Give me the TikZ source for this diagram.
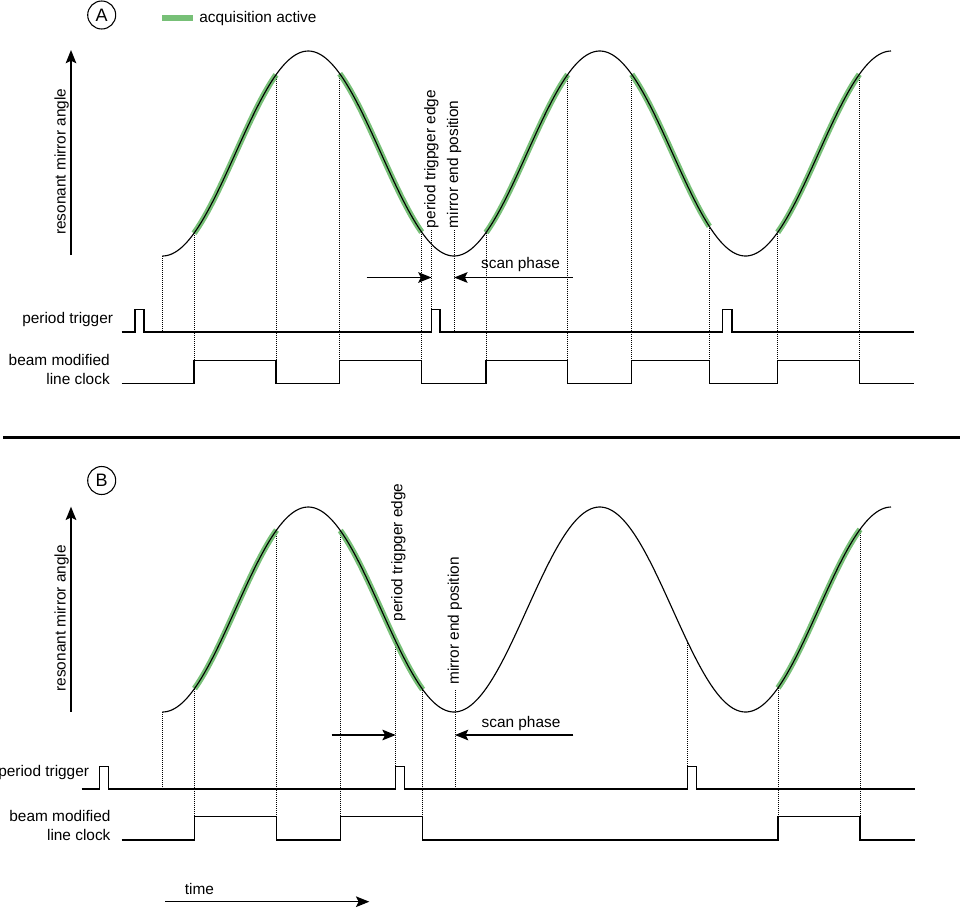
\documentclass[tikz,border=0pt]{standalone}
\usepackage{fontspec}
\setmainfont{Liberation Sans}
\usetikzlibrary{arrows.meta}
\definecolor{acqgreen}{RGB}{96,182,96}
\pgfmathdeclarefunction{mir}{1}{\pgfmathparse{153.5+102.5*cos(1.234991*(#1-162.5))}}
\begin{document}
\begin{tikzpicture}[x=0.75pt,y=-0.75pt,
  wave/.style={line width=1.05pt, black},
  curve/.style={line width=0.85pt, black},
  acq/.style={line width=4.4pt, acqgreen, opacity=0.85},
  guide/.style={line width=0.6pt, black, dash pattern=on 0.75pt off 0.75pt},
  arr/.style={line width=1pt, -{Stealth[length=10pt,width=8pt,inset=2pt]}},
  lbl/.style={font=\fontsize{11.55}{14.25}\selectfont, inner sep=0pt},
  circ/.style={circle, draw, line width=0.8pt, minimum size=21pt, inner sep=0pt, font=\fontsize{13.5}{15}\selectfont}]
\useasboundingbox (0,0) rectangle (960,908);
\fill[white] (0,0) rectangle (960,908);

% ================= Panel A =================
\node[circ] (circA) at (101.7,15) {A};
\coordinate (legL) at (162.3,18.3);
\coordinate (legR) at (193.3,18.3);
\draw[acq] (legL) -- (legR);
\node[lbl, anchor=west] (legtxt) at (199,18.3) {acquisition active};

\node[lbl, rotate=90] (ylabA) at (61.7,161.7) {resonant mirror angle};
\coordinate (yA0) at (71,255);
\coordinate (yA1) at (71,50);
\draw[arr] (yA0) -- (yA1);

% guides A
\foreach \xx in {194,276,339.7,421.7,486,567.7,631.7,709.3,777.7,859.3}
  \draw[guide] (\xx,{mir(\xx)}) -- (\xx,360.5);
\draw[guide] (162.5,{mir(162.5)}) -- (162.5,332);
\draw[guide] (431.5,230) -- (431.5,309.5);
\draw[guide] (454.2,230) -- (454.2,332);

% acquisition A
\foreach \a/\b in {194/276,339.7/421.7,486/567.7,631.7/709.3,777.7/859.3}
  \draw[acq] plot[domain=\a:\b, samples=40] (\x,{mir(\x)});
\draw[curve] plot[domain=162.5:891, samples=300] (\x,{mir(\x)});

\node[lbl, rotate=90, anchor=west] (trigA) at (431.5,228.3) {period trigpger edge};
\node[lbl, rotate=90, anchor=west] (mirA) at (454.2,228.3) {mirror end position};

\node[lbl] (scanA) at (520.5,265) {scan phase};
\coordinate (sA1) at (366.7,277.5);
\coordinate (sA2) at (572.7,277.5);
\draw[arr] (sA1) -- (sA1 -| trigA);
\draw[arr] (sA2) -- (sA2 -| mirA);

\node[lbl, anchor=east] (ptA) at (113.3,320) {period trigger};
\node[lbl, anchor=east, align=right] (bmA) at (110,369.5) {beam modified\\line clock};

\draw[wave] (121.7,332) -- (135,332) -- (135,309.5) -- (144,309.5) -- (144,332)
  -- (431.5,332) -- (431.5,309.5) -- (440,309.5) -- (440,332)
  -- (722.7,332) -- (722.7,309.5) -- (732,309.5) -- (732,332) -- (914,332);
\draw[wave] (121.7,383.3) -- (194,383.3) -- (194,360.5) -- (276,360.5) -- (276,383.3)
  -- (339.7,383.3) -- (339.7,360.5) -- (421.7,360.5) -- (421.7,383.3)
  -- (486,383.3) -- (486,360.5) -- (567.7,360.5) -- (567.7,383.3)
  -- (631.7,383.3) -- (631.7,360.5) -- (709.3,360.5) -- (709.3,383.3)
  -- (777.7,383.3) -- (777.7,360.5) -- (859.3,360.5) -- (859.3,383.3) -- (914,383.3);

% separator
\coordinate (sepL) at (3,437.3);
\coordinate (sepR) at (960,437.3);
\draw[line width=2.3pt] (sepL) -- (sepR);

% ================= Panel B =================
\node[circ] (circB) at (101.7,480.5) {B};
\node[lbl, rotate=90] (ylabB) at (61.7,618.3) {resonant mirror angle};
\coordinate (yB0) at (71,711.7);
\coordinate (yB1) at (71,506.7);
\draw[arr] (yB0) -- (yB1);

\foreach \xx in {194.5,276.5,340.3,422.7,778,860}
  \draw[guide] (\xx,{mir(\xx)+456}) -- (\xx,816.7);
\draw[guide] (162.5,{mir(162.5)+456}) -- (162.5,789);
\draw[guide] (395.7,{mir(395.7)+456}) -- (395.7,766.7);
\draw[guide] (687.3,{mir(687.3)+456}) -- (687.3,766.7);
\draw[guide] (455,690) -- (455,789);

\foreach \a/\b in {194.5/276.5,340.3/422.7,778/860}
  \draw[acq] plot[domain=\a:\b, samples=40] (\x,{mir(\x)+456});
\draw[curve] plot[domain=162.5:891, samples=300] (\x,{mir(\x)+456});

\node[lbl, rotate=90, anchor=west] (trigB) at (398.3,621.7) {period trigpger edge};
\node[lbl, rotate=90, anchor=west] (mirB) at (455,685) {mirror end position};

\node[lbl] (scanB) at (521,723.3) {scan phase};
\coordinate (sB1) at (331.7,735);
\coordinate (sB1t) at (395.7,735);
\coordinate (sB2) at (573.3,735);
\draw[arr] (sB1) -- (sB1t);
\draw[arr] (sB2) -- (sB2 -| mirB);

\node[lbl, anchor=east] (ptB) at (89.3,772.7) {period trigger};
\node[lbl, anchor=east, align=right] (bmB) at (110.7,825.8) {beam modified\\line clock};

\draw[wave] (81.7,789) -- (99.3,789) -- (99.3,766.7) -- (108.3,766.7) -- (108.3,789)
  -- (395.7,789) -- (395.7,766.7) -- (404.3,766.7) -- (404.3,789)
  -- (687.3,789) -- (687.3,766.7) -- (696.5,766.7) -- (696.5,789) -- (914.5,789);
\draw[wave] (121.7,840) -- (194.5,840) -- (194.5,816.7) -- (276.5,816.7) -- (276.5,840)
  -- (340.3,840) -- (340.3,816.7) -- (422.7,816.7) -- (422.7,840)
  -- (778,840) -- (778,816.7) -- (860,816.7) -- (860,840) -- (914.5,840);

\node[lbl] (timetxt) at (199.5,889.3) {time};
\coordinate (tA) at (165,901.7);
\coordinate (tB) at (369.3,901.7);
\draw[arr] (tA) -- (tB);
\end{tikzpicture}
\end{document}
